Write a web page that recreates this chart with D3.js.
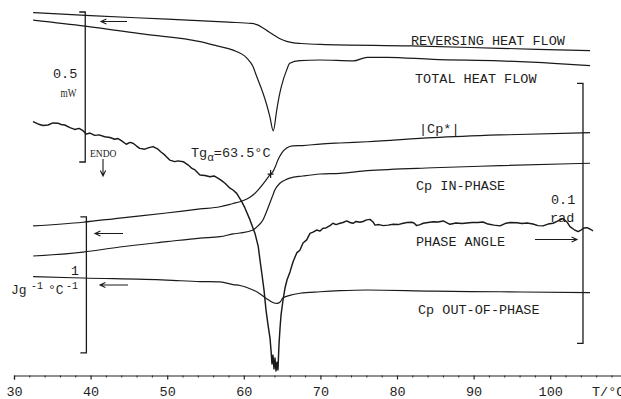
<!DOCTYPE html>
<html>
<head>
<meta charset="utf-8">
<script src="https://cdn.jsdelivr.net/npm/d3@7/dist/d3.min.js"></script>
<style>
  body { margin: 0; background: #fff; }
  svg { display: block; }
  text { font-family: "Liberation Mono", "DejaVu Sans Mono", monospace; fill: #1e1e1e; }
  .serif { font-family: "Liberation Serif", "DejaVu Serif", serif; }
</style>
</head>
<body>
<svg id="chart" width="621" height="399"></svg>
<script>
// reversing heat flow (mW, arbitrary zero)
var revT  = [32.5, 40, 50, 58, 61, 61.8, 62.5, 63.2, 64, 64.8, 65.6, 66.5, 67.5, 70, 81.8, 93.4, 105.2];
var revHF = [1.198, 1.188, 1.176, 1.166, 1.162, 1.157, 1.147, 1.135, 1.122, 1.110, 1.102, 1.097, 1.095, 1.092, 1.087, 1.079, 1.071];

// total heat flow (mW)
var totT  = [32.5, 39.3, 47, 54.3, 56.5, 58.6, 60.4, 61.2, 61.7, 62.5, 63.0, 63.4, 63.85, 64.3, 64.6, 64.9, 65.6, 66.0, 67.3, 69.9, 74.3, 76.1, 78.7, 84.7, 93.4, 100.4, 105.2];
var totHF = [1.173, 1.153, 1.126, 1.101, 1.087, 1.073, 1.046, 1.018, 0.984, 0.930, 0.890, 0.851, 0.804, 0.873, 0.917, 0.951, 1.007, 1.029, 1.038, 1.040, 1.037, 1.049, 1.049, 1.042, 1.037, 1.029, 1.021];

// |Cp*| (J/g/°C)
var magT  = [32.5, 39.0, 43.8, 49.9, 54.3, 56.9, 58.6, 59.5, 60.4, 61.2, 61.85, 62.5, 63.0, 63.4, 63.8, 64.15, 64.45, 64.95, 65.6, 66.4, 67.7, 69.95, 72.55, 76.1, 84.7, 93.45, 105.2];
var magCp = [1.074, 1.101, 1.132, 1.169, 1.199, 1.215, 1.239, 1.252, 1.272, 1.301, 1.338, 1.382, 1.419, 1.449, 1.473, 1.515, 1.559, 1.610, 1.647, 1.662, 1.665, 1.676, 1.684, 1.693, 1.723, 1.743, 1.760];

// Cp in-phase
var inT  = [32.5, 39.0, 43.8, 49.9, 54.3, 56.9, 58.6, 59.5, 61.2, 61.85, 62.5, 62.95, 63.4, 63.75, 64.05, 64.75, 65.4, 66.0, 67.7, 69.95, 72.55, 76.1, 84.7, 93.45, 105.2];
var inCp = [0.853, 0.882, 0.919, 0.958, 0.985, 0.995, 1.015, 1.022, 1.044, 1.074, 1.118, 1.176, 1.243, 1.294, 1.338, 1.390, 1.412, 1.426, 1.441, 1.456, 1.461, 1.480, 1.502, 1.517, 1.535];

// Cp out-of-phase
var outT  = [32.5, 39.0, 49.9, 54.3, 56.9, 58.6, 59.5, 60.4, 61.2, 61.85, 62.5, 63.15, 63.8, 64.3, 64.75, 65.1, 66.0, 67.35, 69.95, 72.55, 76.1, 84.7, 93.45, 105.2];
var outCp = [0.701, 0.691, 0.676, 0.665, 0.662, 0.643, 0.636, 0.621, 0.603, 0.585, 0.559, 0.533, 0.511, 0.504, 0.515, 0.544, 0.563, 0.579, 0.590, 0.598, 0.603, 0.594, 0.590, 0.583];

// phase angle (mrad)
var phT = [32.48, 33.13, 33.79, 34.44, 35.09, 35.74, 36.14, 36.62, 37.31, 37.92,
  38.49, 39.01, 39.44, 39.92, 40.54, 41.10, 41.84, 42.53, 43.15, 43.58,
  44.01, 44.66, 45.14, 45.54, 46.00, 46.41, 47.06, 47.62, 48.15, 48.80,
  49.19, 49.67, 50.33, 50.98, 51.41, 52.10, 52.75, 53.24, 53.63, 54.28,
  54.93, 55.59, 56.11, 56.67, 57.15, 57.55, 58.20, 58.59, 59.07, 59.73,
  60.16, 60.81, 61.46, 61.89, 62.11, 62.38, 62.64, 62.90, 63.16, 63.42,
  63.55, 63.68, 63.81, 63.94, 64.07, 64.20, 64.33, 64.46, 64.59, 64.73,
  64.86, 65.12, 65.38, 65.64, 66.03, 66.42, 66.91, 67.34, 67.73, 68.21,
  68.64, 69.03, 69.52, 69.95, 70.34, 70.73, 71.25, 71.64, 72.04, 72.56,
  72.95, 73.43, 73.86, 74.26, 74.65, 75.17, 75.56, 76.04, 76.48, 76.87,
  77.13, 77.65, 78.21, 78.83, 79.52, 80.13, 80.82, 81.31, 81.92, 82.22,
  82.57, 83.00, 83.43, 84.05, 84.74, 85.35, 86.04, 86.91, 87.70, 88.49,
  89.14, 89.79, 90.57, 91.23, 91.88, 92.66, 93.45, 94.10, 94.75, 95.67,
  96.32, 96.97, 97.75, 98.41, 99.06, 99.71, 100.37, 101.02, 101.67, 102.19,
  102.58, 103.11, 103.63, 104.02, 104.39, 104.80, 105.19, 105.59];
var phV = [96.3, 95.4, 94.8, 95.0, 95.8, 95.7, 95.2, 95.0, 94.0, 93.3,
  93.7, 92.8, 91.5, 91.9, 91.0, 91.2, 90.5, 90.2, 89.5, 89.8,
  89.0, 87.6, 88.3, 88.0, 86.9, 86.0, 85.7, 86.3, 86.7, 85.7,
  84.6, 83.5, 81.5, 80.9, 81.2, 80.9, 79.6, 78.3, 77.7, 75.8,
  75.6, 75.1, 75.4, 74.5, 73.5, 72.6, 70.7, 70.0, 68.7, 65.5,
  63.0, 58.5, 53.3, 48.2, 43.1, 37.3, 31.5, 23.8, 18.1, 13.1,
  8.5, 3.1, 6.5, 1.2, 5.4, 0.4, 3.8, 0.8, 10.4, 16.9,
  21.9, 27.7, 32.3, 35.4, 38.5, 42.3, 45.8, 46.9, 49.6, 50.8,
  53.3, 53.8, 54.6, 54.2, 55.3, 55.4, 56.3, 57.2, 56.7, 57.2,
  57.5, 58.1, 57.5, 57.2, 57.9, 57.6, 57.9, 58.5, 58.7, 57.7,
  56.5, 56.7, 56.3, 56.5, 56.8, 56.7, 57.2, 57.5, 57.6, 57.3,
  56.3, 56.7, 57.2, 57.5, 57.8, 57.7, 58.1, 56.8, 57.3, 57.1,
  57.3, 57.5, 57.5, 57.7, 56.9, 56.5, 56.2, 57.1, 57.5, 57.4,
  57.1, 57.3, 56.9, 56.3, 56.2, 56.9, 57.2, 58.1, 59.0, 57.7,
  55.9, 54.8, 54.0, 54.6, 55.4, 55.5, 55.0, 54.3];

// Tg marker on |Cp*|
var tgT = 63.5, tgCp = 1.455;

// scale bars: 0.5 mW, 1 J/g/°C, 0.1 rad
var hfBar = [1.2, 0.7], hfBarT = 39.3;
var cpBar = [1.14, 0.14], cpBarT = 39.45;
var phBar = [111, 11], phBarT = 104.28;

var majorTicks = [30, 40, 50, 60, 70, 80, 90, 100];

var svg = d3.select("#chart");

var x = d3.scaleLinear().domain([30, 110]).range([14, 626.8]);
var yHF = d3.scaleLinear().domain([0, 1.2]).range([372, 12]);
var yCp = d3.scaleLinear().domain([0, 2.5]).range([372, 32]);
var yPh = d3.scaleLinear().domain([0, 140]).range([372, 8]);

// axis
var axisY = 375.5;
var gx = svg.append("g")
    .attr("transform", "translate(0," + axisY + ")")
    .call(d3.axisBottom(x).tickValues(majorTicks).tickSize(4).tickFormat(d3.format("d")));
gx.select(".domain").attr("stroke", "#222").attr("stroke-width", 1.2);
gx.selectAll(".tick line").attr("stroke", "#222").attr("stroke-width", 1.2);
gx.selectAll("text")
    .attr("y", 20).attr("dy", 0)
    .style("font-family", '"Liberation Mono", monospace')
    .style("font-size", "13.5px")
    .attr("fill", "#1e1e1e");

svg.append("g")
    .attr("transform", "translate(0," + axisY + ")")
    .call(d3.axisBottom(x).tickValues(d3.range(32, 110, 2).filter(function(d) { return d % 10 != 0; }))
      .tickSize(2).tickFormat(""))
  .call(function(g) { g.select(".domain").remove(); })
  .selectAll(".tick line").attr("stroke", "#222");

// the reference crops this label at the right edge
svg.append("text").attr("x", 592).attr("y", 395.5)
    .style("font-size", "13.5px").text("T/°C");

// curves
function draw(ts, vs, y, curve, w) {
  svg.append("path")
      .datum(d3.zip(ts, vs))
      .attr("fill", "none")
      .attr("stroke", "#1a1a1a")
      .attr("stroke-width", w)
      .attr("stroke-linejoin", "round")
      .attr("d", d3.line()
        .x(function(d) { return x(d[0]); })
        .y(function(d) { return y(d[1]); })
        .curve(curve));
}

draw(revT, revHF, yHF, d3.curveMonotoneX, 1.2);
draw(totT, totHF, yHF, d3.curveMonotoneX, 1.2);
draw(magT, magCp, yCp, d3.curveMonotoneX, 1.2);
draw(inT, inCp, yCp, d3.curveMonotoneX, 1.2);
draw(outT, outCp, yCp, d3.curveMonotoneX, 1.2);
draw(phT, phV, yPh, d3.curveLinear, 1.45);

// Tg cross
var tx = x(tgT), ty = yCp(tgCp);
svg.append("path")
    .attr("d", "M" + (tx - 3) + "," + ty + "h6M" + tx + "," + (ty - 4) + "v8")
    .attr("stroke", "#1a1a1a").attr("stroke-width", 1.2);

// scale bars
function bar(t, v0, v1, y) {
  var bx = x(t), a = y(v0), b = y(v1);
  svg.append("path")
      .attr("d", "M" + (bx - 6) + "," + a + "H" + bx + "V" + b + "H" + (bx - 6))
      .attr("fill", "none").attr("stroke", "#1a1a1a").attr("stroke-width", 1.3);
}
bar(hfBarT, hfBar[0], hfBar[1], yHF);
bar(cpBarT, cpBar[0], cpBar[1], yCp);
bar(phBarT, phBar[0], phBar[1], yPh);

// arrows
function arrow(x1, y1, x2, y2) {
  var ang = Math.atan2(y2 - y1, x2 - x1), L = 6, s = 0.45;
  svg.append("path")
      .attr("d", "M" + x1 + "," + y1 + "L" + x2 + "," + y2 +
        "M" + (x2 - L * Math.cos(ang - s)) + "," + (y2 - L * Math.sin(ang - s)) +
        "L" + x2 + "," + y2 +
        "L" + (x2 - L * Math.cos(ang + s)) + "," + (y2 - L * Math.sin(ang + s)))
      .attr("fill", "none").attr("stroke", "#1a1a1a").attr("stroke-width", 1.1);
}
arrow(127, 21.5, 101, 21.5);
arrow(123, 233.5, 95, 233.5);
arrow(128, 285, 100, 285);
arrow(535, 239.5, 577, 239.5);
arrow(103, 159, 103, 176);

// labels
function label(tx, ty, s, size) {
  return svg.append("text").attr("x", tx).attr("y", ty)
      .style("font-size", (size || 13.5) + "px").text(s);
}
label(411, 45, "REVERSING HEAT FLOW");
label(415, 83, "TOTAL HEAT FLOW");
label(419, 133, "|Cp*|");
label(416, 190, "Cp IN-PHASE");
label(416, 246, "PHASE ANGLE");
label(418, 314, "Cp OUT-OF-PHASE");
label(551, 204, "0.1");
label(550, 222, "rad");
label(53, 78, "0.5");
label(71, 275, "1", 13);

svg.append("text").attr("class", "serif").attr("x", 60.5).attr("y", 96.5)
    .attr("textLength", 16).attr("lengthAdjust", "spacingAndGlyphs")
    .style("font-size", "12px").text("mW");
svg.append("text").attr("class", "serif").attr("x", 90).attr("y", 157.3)
    .attr("textLength", 26.5).attr("lengthAdjust", "spacingAndGlyphs")
    .style("font-size", "10px").text("ENDO");

var tg = svg.append("text").attr("x", 191).attr("y", 157).style("font-size", "13.5px");
tg.append("tspan").text("Tg");
tg.append("tspan").attr("dy", 4).style("font-size", "11px").text("α");
tg.append("tspan").attr("dy", -4).text("=63.5°C");

var jg = svg.append("text").attr("y", 294).style("font-size", "13px");
jg.append("tspan").attr("x", 11).text("Jg");
jg.append("tspan").attr("x", 31).attr("dy", -5).style("font-size", "10px").text("-1");
jg.append("tspan").attr("x", 48).attr("dy", 5).text("°C");
jg.append("tspan").attr("x", 66).attr("dy", -5).style("font-size", "10px").text("-1");
</script>
</body>
</html>
